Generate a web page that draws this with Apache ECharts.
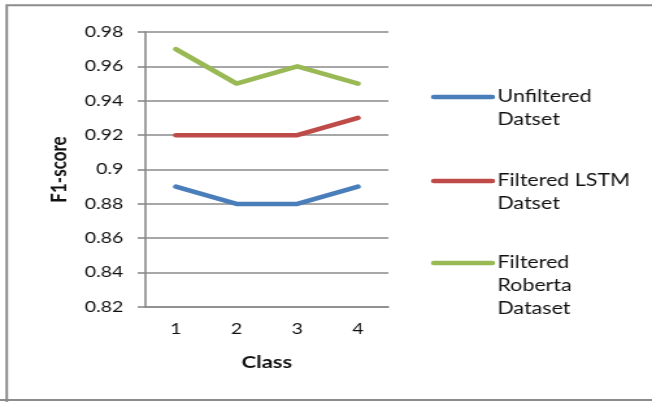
<!DOCTYPE html>
<html>
<head>
<meta charset="utf-8">
<script src="https://cdn.jsdelivr.net/npm/echarts@6/dist/echarts.min.js"></script>
<style>
  html, body { margin: 0; padding: 0; background: #ffffff; overflow: hidden; }
  #wrap { width: 652px; height: 402px; overflow: hidden; }
  /* chart is laid out narrower and widened horizontally */
  #chart { width: 502px; height: 402px; transform: scaleX(1.2988); transform-origin: 0 0; }
</style>
</head>
<body>
<div id="wrap"><div id="chart"></div></div>
<script>
// Categories (classes) and F1-score per dataset
const classes = ['1', '2', '3', '4'];
const seriesNames = ['Unfiltered\nDatset', 'Filtered LSTM\nDatset', 'Filtered\nRoberta\nDataset'];
const unfiltered = [0.89, 0.88, 0.88, 0.89];
const filteredLstm = [0.92, 0.92, 0.92, 0.93];
const filteredRoberta = [0.97, 0.95, 0.96, 0.95];
const yMin = 0.82, yMax = 0.98, yStep = 0.02;

const colors = ['#4a7ebb', '#be4b48', '#98b954'];
const seriesData = [unfiltered, filteredLstm, filteredRoberta];

const chart = echarts.init(document.getElementById('chart'), null, { renderer: 'canvas' });

// Legend: a short line swatch beside each (multi-line) name
const legendGraphics = [];
const legendTop = [97, 181, 263];
seriesNames.forEach((name, i) => {
  legendGraphics.push({
    type: 'line',
    shape: { x1: 334, y1: legendTop[i], x2: 379, y2: legendTop[i] },
    style: { stroke: colors[i], lineWidth: 4.5, lineCap: 'round' }
  });
  legendGraphics.push({
    type: 'text',
    x: 383,
    y: legendTop[i] - 11.5,
    style: {
      text: name,
      fill: '#111111',
      font: '16.5px Lato',
      lineHeight: 23,
      verticalAlign: 'top',
      align: 'left'
    }
  });
});

chart.setOption({
  backgroundColor: '#ffffff',
  animation: false,
  grid: { left: 112, right: 502 - 299, top: 32, bottom: 402 - 307, containLabel: false },
  xAxis: {
    type: 'category',
    data: classes,
    boundaryGap: true,
    name: 'Class',
    nameLocation: 'middle',
    nameGap: 47,
    nameTextStyle: { fontFamily: 'Lato', fontWeight: 'bold', fontSize: 17, color: '#111111' },
    axisLine: { lineStyle: { color: '#8a8a8a', width: 1.6 } },
    axisTick: { show: false },
    axisLabel: { fontFamily: 'Lato', fontSize: 15, color: '#111111', margin: 15 },
    splitLine: { show: false }
  },
  yAxis: {
    type: 'value',
    min: yMin,
    max: yMax,
    interval: yStep,
    name: 'F1-score',
    nameLocation: 'middle',
    nameGap: 58,
    nameRotate: 90,
    nameTextStyle: { fontFamily: 'Lato', fontWeight: 'bold', fontSize: 17, color: '#111111' },
    axisLine: { show: true, lineStyle: { color: '#8a8a8a', width: 1.6 } },
    axisTick: { show: true, length: 6, lineStyle: { color: '#8a8a8a', width: 1.6 } },
    axisLabel: {
      fontFamily: 'Lato', fontSize: 15, color: '#111111', margin: 17,
      formatter: v => String(parseFloat(v.toFixed(2)))
    },
    splitLine: { show: true, lineStyle: { color: '#8a8a8a', width: 1.6 } }
  },
  series: seriesData.map((d, i) => ({
    name: seriesNames[i],
    type: 'line',
    data: d,
    symbol: 'none',
    lineStyle: { color: colors[i], width: 4.5, cap: 'round', join: 'round' },
    itemStyle: { color: colors[i] },
    z: 3
  })),
  graphic: [
    {
      type: 'polyline',
      shape: { points: [[5.2, 402], [5.2, 5.2], [502, 5.2]] },
      style: { stroke: '#8c8c8c', lineWidth: 2, fill: null },
      silent: true
    },
    {
      type: 'line',
      shape: { x1: 0, y1: 400, x2: 502, y2: 400 },
      style: { stroke: '#8c8c8c', lineWidth: 2 },
      silent: true
    }
  ].concat(legendGraphics)
});
</script>
</body>
</html>
